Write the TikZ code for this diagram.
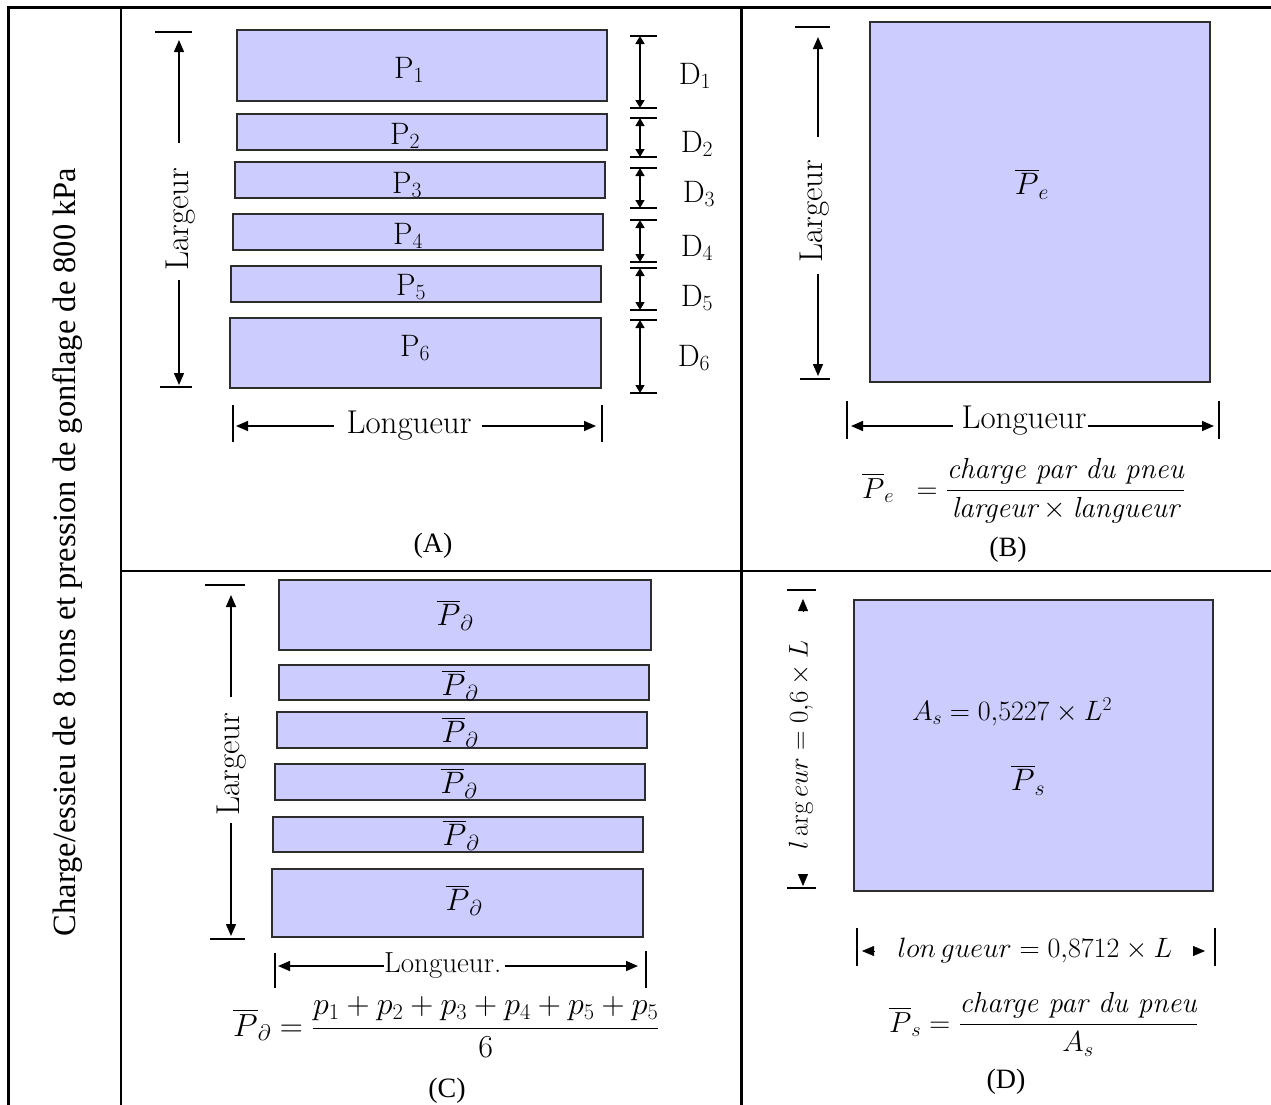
\RequirePackage{fix-cm}
\documentclass[tikz,border=0pt]{standalone}
\usepackage{amsmath}
\usepackage{graphicx}
\usepackage{fontspec}
\newfontfamily\tnr{Liberation Serif}
\usetikzlibrary{arrows.meta}
\definecolor{tirefill}{RGB}{204,204,255}
\definecolor{tireedge}{RGB}{45,45,45}
\begin{document}
\begin{tikzpicture}[x=1pt,y=-1pt,
  tire/.style={draw=tireedge, line width=2pt, fill=tirefill},
  gridline/.style={line width=2.6pt, line cap=rect},
  dimline/.style={line width=1.5pt},
  tk/.style={line width=1.5pt},
  aend/.style={-{Triangle[length=12pt,width=10pt]}},
  dboth/.style={line width=1.5pt,{Triangle[length=8pt,width=9pt]}-{Triangle[length=8pt,width=9pt]}},
  lbl/.style={inner sep=0pt, font=\fontsize{33}{39}\selectfont},
  plbl/.style={inner sep=0pt, font=\fontsize{31}{37}\selectfont},
  mlbl/.style={inner sep=0pt, font=\fontsize{29}{35}\selectfont},
  panelcap/.style={inner sep=0pt, font=\tnr\fontsize{28}{34}\selectfont}
]
\useasboundingbox (0,0) rectangle (1271,1104);
\fill[white] (0,0) rectangle (1271,1104);

% ---------------- table grid ----------------
\draw[gridline] (1272,7.5) -- (8.5,7.5) -- (8.5,1106);
\draw[gridline] (121,7.5) -- (121,1106);
\draw[gridline] (741.5,7.5) -- (741.5,1106);
\draw[gridline] (121,571) -- (1272,571);

\node[rotate=90, inner sep=0pt, font=\tnr\fontsize{32.5}{38}\selectfont] (side) at (68,552)
  {Charge/essieu de 8 tons et pression de gonflage de 800 kPa};

% ---------------- panel A ----------------
\draw[tire] (237,30) rectangle (607,101);
\draw[tire] (237,114) rectangle (607,150);
\draw[tire] (235,162) rectangle (605,198);
\draw[tire] (233,214) rectangle (603,250);
\draw[tire] (231,266) rectangle (601,302);
\draw[tire] (230,318) rectangle (601,388);
\node[plbl] (p1) at (409,70) {$\mathrm{P}_1$};
\node[plbl] (p2) at (405,136) {$\mathrm{P}_2$};
\node[plbl] (p3) at (407,185) {$\mathrm{P}_3$};
\node[plbl] (p4) at (408,236) {$\mathrm{P}_4$};
\node[plbl] (p5) at (411,287) {$\mathrm{P}_5$};
\node[plbl] (p6) at (415,348) {$\mathrm{P}_6$};

% Largeur A
\draw[tk] (155,32) -- (192,32);
\draw[tk] (160,387) -- (192,387);
\node[lbl, rotate=90] (largA) at (181,219) {Largeur};
\draw[dimline, aend] (179,143) -- (179,40);
\draw[dimline, aend] (179,280) -- (179,385);

% D dimensions
\foreach \yy in {36,108,118,157,168,208,220,262,268,310,320,393}
  \draw[tk] (630,\yy) -- (657,\yy);
\foreach \ya/\yb in {36/108,118/157,168/208,220/262,268/310,320/393}
  \draw[dboth] (640,\ya) -- (640,\yb);
\node[plbl] (d1) at (695,76) {$\mathrm{D}_1$};
\node[plbl] (d2) at (697,144) {$\mathrm{D}_2$};
\node[plbl] (d3) at (699,194) {$\mathrm{D}_3$};
\node[plbl] (d4) at (697,248) {$\mathrm{D}_4$};
\node[plbl] (d5) at (697,298) {$\mathrm{D}_5$};
\node[plbl] (d6) at (694,358) {$\mathrm{D}_6$};

% Longueur A
\draw[tk] (233,405) -- (233,442);
\draw[tk] (602,405) -- (602,442);
\node[lbl] (longA) at (409,426) {Longueur};
\draw[dimline, aend] (longA.west) ++(-12,0) -- (236,426);
\draw[dimline, aend] (longA.east) ++(10,0) -- (596,426);

\node[panelcap] (capA) at (433,546) {(A)};

% ---------------- panel B ----------------
\draw[tire] (870,22) rectangle (1210,382);
\node[plbl] (pe) at (1032,184) {$\overline{P}_{e}$};

\draw[tk] (795,27) -- (830,27);
\draw[tk] (800,379) -- (830,379);
\node[lbl, rotate=90] (largB) at (815,211) {Largeur};
\draw[dimline, aend] (818,137) -- (818,37);
\draw[dimline, aend] (818,274) -- (818,376);

\draw[tk] (847,401) -- (847,439);
\draw[tk] (1219,401) -- (1219,439);
\node[lbl, anchor=base] (longB) at (1024,428) {Longueur};
\draw[dimline, aend] (longB.west |- 0,426) ++(-8,0) -- (851,426);
\draw[dimline, aend] (longB.east |- 0,426) ++(1,0) -- (1214,426);

\node[mlbl, anchor=base west] (fB) at (862,498)
  {$\overline{P}_{e}\enspace=\dfrac{\textit{charge par du pneu}}{\textit{largeur}\times\textit{langueur}}$};
\node[panelcap] (capB) at (1008,550) {(B)};

% ---------------- panel C ----------------
\draw[tire] (279,580) rectangle (651,650);
\draw[tire] (279,665) rectangle (649,700);
\draw[tire] (277,712) rectangle (647,748);
\draw[tire] (275,764) rectangle (645,800);
\draw[tire] (273,817) rectangle (643,852);
\draw[tire] (272,869) rectangle (643,937);
\node[plbl] (c1) at (455,615) {$\overline{P}_{\partial}$};
\node[plbl] (c2) at (460,685) {$\overline{P}_{\partial}$};
\node[plbl] (c3) at (460,732) {$\overline{P}_{\partial}$};
\node[plbl] (c4) at (459,783) {$\overline{P}_{\partial}$};
\node[plbl] (c5) at (461,835) {$\overline{P}_{\partial}$};
\node[plbl] (c6) at (464,900) {$\overline{P}_{\partial}$};

\draw[tk] (205,585) -- (245,585);
\draw[tk] (210,939) -- (245,939);
\node[lbl, rotate=90] (largC) at (232,764) {Largeur};
\draw[dimline, aend] (231,697) -- (231,595);
\draw[dimline, aend] (231,823) -- (231,936);

\draw[tk] (275,953) -- (275,988);
\draw[tk] (646,951) -- (646,988);
\node[inner sep=0pt, font=\fontsize{29}{35}\selectfont, anchor=west] (longC) at (384,966) {Longueur.};
\draw[dimline, aend] (longC.west) -- (278,966);
\draw[dimline, aend] (longC.east) ++(4,0) -- (638,966);

\node[inner sep=0pt, font=\fontsize{32}{38}\selectfont, anchor=base west] (fC) at (233,1036)
  {$\overline{P}_{\partial}=\dfrac{p_1+p_2+p_3+p_4+p_5+p_5}{6}$};
\node[panelcap] (capC) at (447,1091) {(C)};

% ---------------- panel D ----------------
\draw[tire] (854,600) rectangle (1213,891);
\node[inner sep=0pt, font=\fontsize{28}{34}\selectfont] (as) at (1012,712) {$A_s = 0{,}5227\times L^2$};
\node[plbl] (ps) at (1028,780) {$\overline{P}_s$};

\draw[tk] (787,590) -- (816,590);
\draw[tk] (787,888) -- (816,888);
\draw[aend] (803,611) -- (803,599);
\draw[aend] (803,874) -- (803,886);
\node[inner sep=0pt, font=\fontsize{27}{32}\selectfont, rotate=90] (largD) at (801,745) {$l\arg eur = 0{,}6\times L$};

\draw[tk] (857,928) -- (857,966);
\draw[tk] (1215,928) -- (1215,966);
\draw[aend] (874,951) -- (862,951);
\draw[aend] (1193,951) -- (1205,951);
\node[inner sep=0pt, font=\fontsize{28}{34}\selectfont, anchor=base] (longD) at (1035,957) {$lon\,gueur = 0{,}8712\times L$};

\node[mlbl, anchor=base west] (fD) at (889,1032)
  {$\overline{P}_s=\dfrac{\textit{charge par du pneu}}{A_s}$};
\node[panelcap] (capD) at (1006,1082) {(D)};
\end{tikzpicture}
\end{document}
